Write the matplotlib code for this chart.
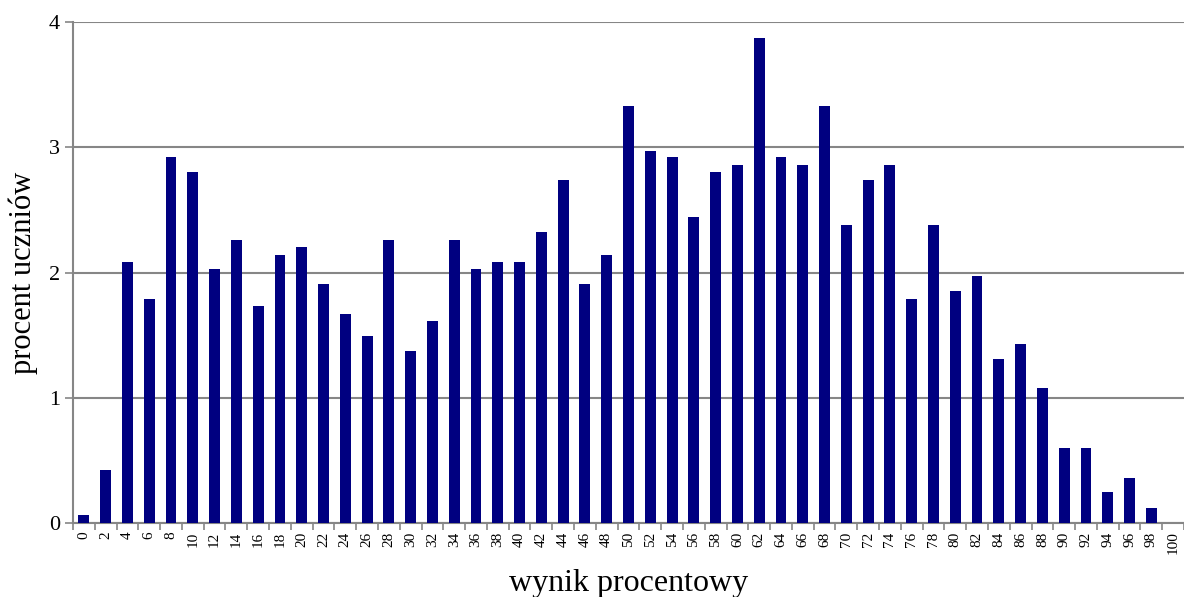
import numpy as np
import matplotlib.pyplot as plt

plt.rcParams['font.family'] = ['Liberation Serif', 'DejaVu Serif']

wynik = list(range(0, 101, 2))
procent = [0.06, 0.42, 2.085, 1.79, 2.92, 2.80, 2.03, 2.26, 1.73, 2.14,
           2.20, 1.905, 1.67, 1.49, 2.26, 1.37, 1.61, 2.26, 2.03, 2.085,
           2.085, 2.32, 2.74, 1.905, 2.14, 3.33, 2.97, 2.92, 2.44, 2.80,
           2.86, 3.87, 2.92, 2.86, 3.33, 2.38, 2.74, 2.86, 1.79, 2.38,
           1.85, 1.97, 1.31, 1.43, 1.075, 0.60, 0.60, 0.245, 0.36, 0.12,
           0.0]

fig = plt.figure(figsize=(11.84, 5.97), dpi=100)
ax = fig.add_axes([73 / 1184, 1 - 523 / 597, 1 - 73 / 1184, (523 - 22) / 597])

x = np.arange(len(wynik))
ax.bar(x, procent, width=0.5, color='#000080', zorder=3)

ax.set_ylim(0, 4)
ax.set_xlim(-0.5, len(wynik) - 0.5)
ax.set_yticks([0, 1, 2, 3, 4])
ax.yaxis.grid(True, color='#868686', linewidth=1.5, zorder=0)

ax.set_xticks(x)
ax.set_xticklabels([str(w) for w in wynik], rotation=90, fontsize=11)
ax.set_xticks(np.arange(-0.5, len(wynik)), minor=True)
ax.tick_params(axis='x', which='major', length=0, pad=6)
ax.tick_params(axis='x', which='minor', length=5, width=1.2, color='#868686')
ax.tick_params(axis='y', length=6, width=1.2, color='#868686', labelsize=16)

for s in ['top', 'right']:
    ax.spines[s].set_visible(False)
for s in ['left', 'bottom']:
    ax.spines[s].set_color('#868686')
    ax.spines[s].set_linewidth(1.5)

ax.set_ylabel('procent uczniów', fontsize=22, labelpad=8)
ax.set_xlabel('wynik procentowy', fontsize=23)
ax.xaxis.set_label_coords(0.5, (523 - 583) / 501)
ax.xaxis.label.set_va('center')

fig.savefig('out.png', dpi=100)
